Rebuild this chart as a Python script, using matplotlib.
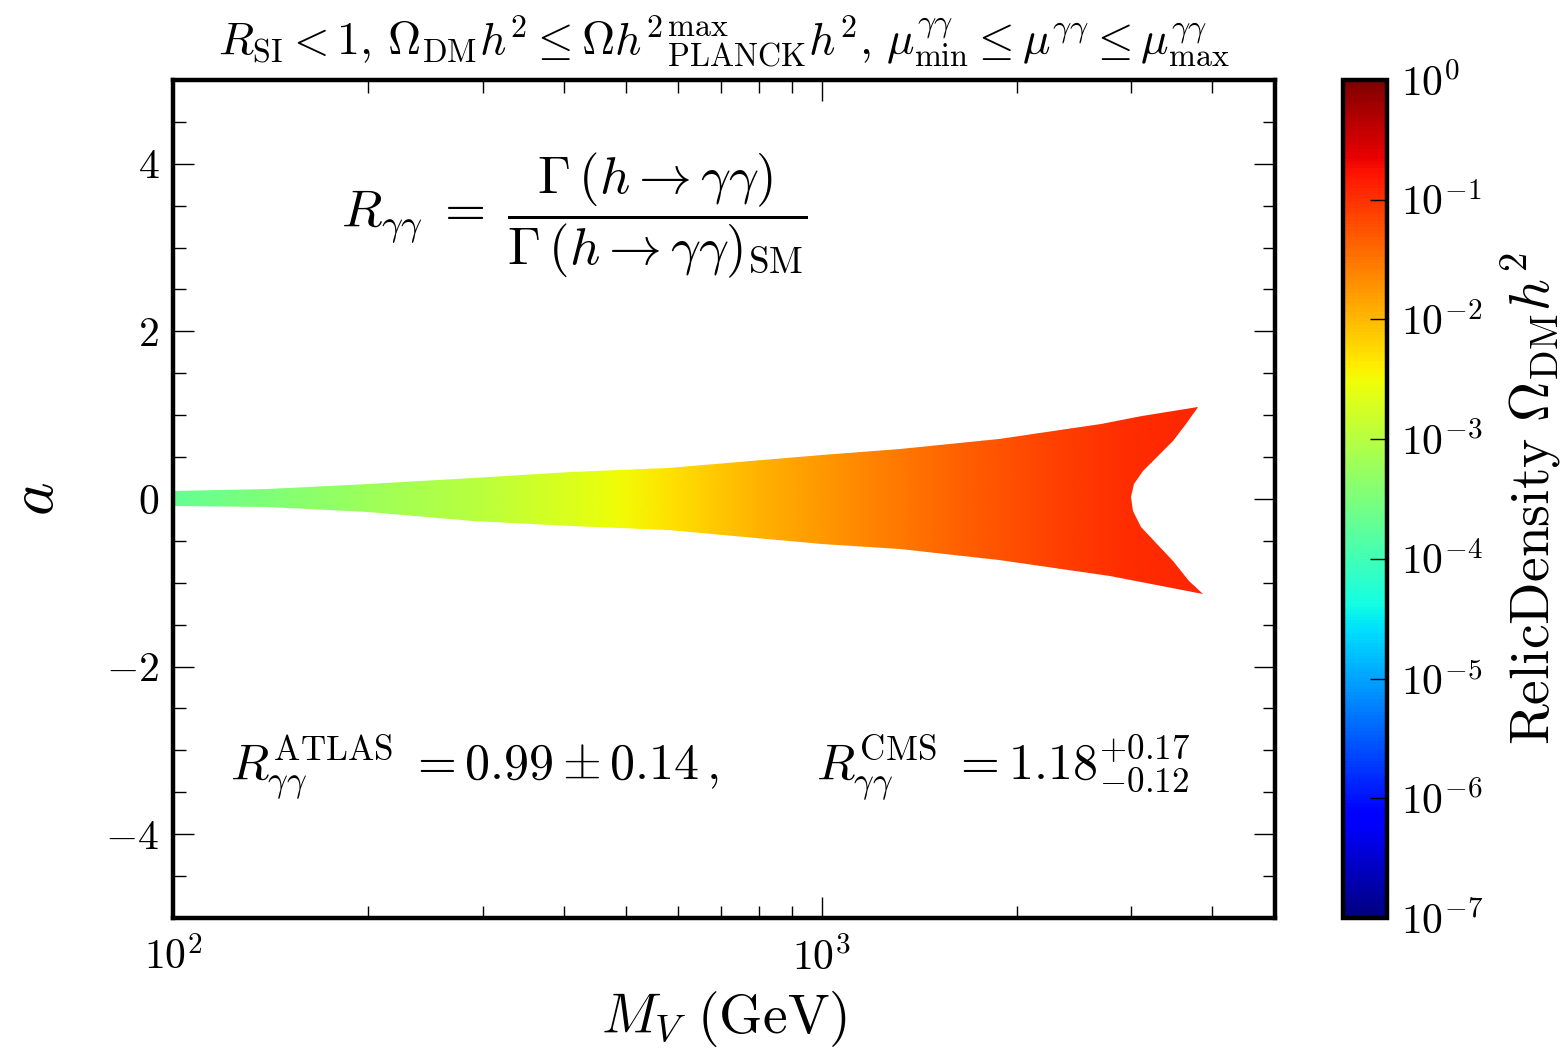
import numpy as np
import matplotlib
matplotlib.use("Agg")
import matplotlib.pyplot as plt
from matplotlib.colors import LogNorm
from matplotlib.patches import Polygon
from matplotlib.ticker import FixedLocator, LogLocator, MultipleLocator, NullFormatter

plt.rcParams['mathtext.fontset'] = 'cm'
plt.rcParams['font.family'] = 'serif'
plt.rcParams['font.serif'] = ['cmr10', 'DejaVu Serif']
plt.rcParams['axes.unicode_minus'] = False

# allowed region in the (M_V, a) plane: upper edge, lower edge, and the notch at high mass
mass_upper = [100, 140, 200, 290, 410, 580, 1000, 1320, 1880, 2700, 3120, 3800]
a_upper = [0.09, 0.12, 0.18, 0.25, 0.32, 0.37, 0.53, 0.60, 0.72, 0.90, 0.99, 1.10]
mass_notch = [3800, 3650, 3475, 3285, 3125, 3035, 2995, 3015, 3110, 3285, 3475, 3690, 3865]
a_notch = [1.10, 0.89, 0.69, 0.50, 0.33, 0.18, 0.02, -0.14, -0.33, -0.54, -0.74, -0.98, -1.13]
mass_lower = [100, 140, 200, 290, 410, 580, 1000, 1320, 1880, 2780, 3865]
a_lower = [-0.08, -0.10, -0.16, -0.26, -0.32, -0.37, -0.54, -0.60, -0.73, -0.92, -1.13]

# relic density along the band
mass_relic = [100, 200, 290, 410, 490, 580, 800, 1140, 1630, 2320, 2950, 3865]
relic = [2.0e-4, 6.3e-4, 1.0e-3, 2.0e-3, 3.2e-3, 5.0e-3, 1.1e-2, 2.2e-2,
         4.5e-2, 7.9e-2, 1.1e-1, 1.25e-1]

cbar_ticks = [1e-7, 1e-6, 1e-5, 1e-4, 1e-3, 1e-2, 1e-1, 1e0]
cbar_labels = [r'$10^{-7}$', r'$10^{-6}$', r'$10^{-5}$', r'$10^{-4}$',
               r'$10^{-3}$', r'$10^{-2}$', r'$10^{-1}$', r'$10^{0}$']

fig = plt.figure(figsize=(15.66, 10.49), dpi=100)
ax = fig.add_axes([0.1105, 0.1249, 0.7037, 0.7989])
cax = fig.add_axes([0.8576, 0.1249, 0.0281, 0.7989])

norm = LogNorm(vmin=1e-7, vmax=1.0)
X = np.array([mass_relic, mass_relic])
Y = np.array([[-1.3] * len(mass_relic), [1.3] * len(mass_relic)])
C = np.array([relic, relic])
mesh = ax.pcolormesh(X, Y, C, cmap='jet', norm=norm, shading='gouraud', zorder=2)

outline = list(zip(mass_upper, a_upper)) + list(zip(mass_notch, a_notch)) \
    + list(zip(mass_lower[::-1], a_lower[::-1]))
region = Polygon(outline, closed=True, facecolor='none', edgecolor='none',
                 transform=ax.transData)
ax.add_patch(region)
mesh.set_clip_path(region)

ax.set_xscale('log')
ax.set_xlim(100, 5000)
ax.set_ylim(-5, 5)

ax.xaxis.set_major_locator(FixedLocator([100, 1000]))
ax.set_xticklabels([r'$10^{2}$', r'$10^{3}$'])
ax.xaxis.set_minor_locator(LogLocator(base=10, subs=np.arange(2, 10)))
ax.xaxis.set_minor_formatter(NullFormatter())
ax.yaxis.set_major_locator(FixedLocator([-4, -2, 0, 2, 4]))
ax.set_yticklabels([r'$-4$', r'$-2$', r'$0$', r'$2$', r'$4$'])
ax.yaxis.set_minor_locator(MultipleLocator(0.5))

ax.tick_params(which='both', direction='in', top=True, right=True, labelsize=30, width=1)
ax.tick_params(axis='x', which='major', length=15, pad=14)
ax.tick_params(axis='y', which='major', length=15, pad=10)
ax.tick_params(which='minor', length=9)
for sp in ax.spines.values():
    sp.set_linewidth(3.2)

ax.set_xlabel(r'$M_V\ (\mathrm{GeV})$', fontsize=40, labelpad=8)
ax.set_ylabel(r'$a$', fontsize=46, labelpad=28)
ax.set_title(r'$R_{\rm SI}<1,\,\Omega_{\rm DM}h^2\leq\Omega h^{2}{}^{\rm max}_{\rm PLANCK}h^2,'
             r'\,\mu^{\gamma\gamma}_{\rm min}\leq\mu^{\gamma\gamma}\leq\mu^{\gamma\gamma}_{\rm max}$',
             fontsize=33, pad=18)

ax.text(0.152, 0.838, r'$R_{\gamma\gamma}\;=\;\dfrac{\Gamma\,(h\rightarrow\gamma\gamma)}'
        r'{\Gamma\,(h\rightarrow\gamma\gamma)_{\rm SM}}$',
        transform=ax.transAxes, fontsize=38, ha='left', va='center')
ax.text(0.052, 0.179, r'$R^{\rm ATLAS}_{\gamma\gamma}\;=0.99\pm0.14\,,$',
        transform=ax.transAxes, fontsize=36, ha='left', va='center')
ax.text(0.583, 0.179, r'$R^{\rm CMS}_{\gamma\gamma}\;=1.18^{+0.17}_{-0.12}$',
        transform=ax.transAxes, fontsize=36, ha='left', va='center')

cb = fig.colorbar(mesh, cax=cax)
cb.set_ticks(cbar_ticks)
cb.set_ticklabels(cbar_labels)
cb.ax.minorticks_off()
cb.ax.tick_params(direction='in', length=12, width=1, labelsize=30, pad=10)
cb.outline.set_linewidth(3.2)
cb.set_label(r'$\mathrm{RelicDensity}\ \Omega_{\rm DM}h^2$', fontsize=40, labelpad=12)

fig.savefig('out.png', dpi=100)
